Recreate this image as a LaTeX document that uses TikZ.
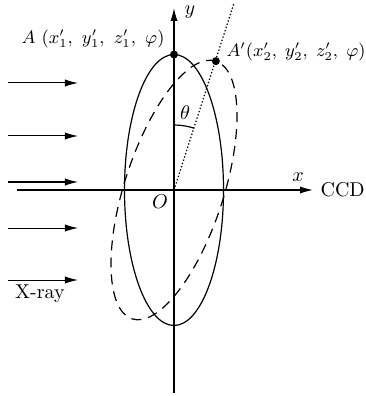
\documentclass[tikz,border=0pt]{standalone}
\usepackage{amsmath}
\usetikzlibrary{arrows.meta, positioning, calc}

\begin{document}
\begin{tikzpicture}[
    x=0.5pt, y=0.5pt,
    line width=0.6pt,
    axis/.style = {-{Latex[length=6.5pt, width=3.6pt]}},
    ray/.style = {-{Latex[length=6.5pt, width=3.6pt]}, line width=0.5pt},
    dashline/.style = {dash pattern=on 5pt off 3.5pt},
    dotline/.style = {dash pattern=on 0.7pt off 1pt},
    dot/.style = {circle, fill, inner sep=0pt, minimum size=4pt},
    ptlabel/.style = {font=\small, inner sep=0pt}
]
  \useasboundingbox (-174,-206) rectangle (191,190);

  % axes
  \coordinate (O) at (0,0);
  \coordinate (xstart) at (-157,0);
  \coordinate (xend) at (139,0);
  \coordinate (ystart) at (0,-203);
  \coordinate (yend) at (0,182);
  \draw[axis] (xstart) -- (xend);
  \draw[axis] (ystart) -- (yend);
  \node (xlabel) at (124,13) {$x$};
  \node (ylabel) at (16,178) {$y$};
  \node[anchor=west, inner sep=0pt] (ccd) at (146,0) {CCD};
  \node (olabel) at (-14,-12) {$O$};

  % ellipses
  \draw (O) ellipse [x radius=49.5, y radius=135.5];
  \draw[dashline, rotate=-18] (O) ellipse [x radius=49.5, y radius=135.5];

  % tilted axis and angle
  \coordinate (tiptop) at (60,187);
  \draw[dotline] (O) -- (tiptop);
  \draw (0,65) arc[start angle=90, end angle=72, radius=65];
  \node (theta) at (11,77) {$\theta$};

  % points
  \node[dot] (A) at (0,135.5) {};
  \node[dot] (A2) at ($(O)!1!-18:(0,135.5)$) {};
  \node[ptlabel] (Alabel) at (-81,151) {$A\ (x_1', \ y_1', \ z_1', \ \varphi)$};
  \node[ptlabel, anchor=west] (A2label) at (52,138) {$A'(x_2', \; y_2', \; z_2', \; \varphi)$};

  % incoming X-rays
  \foreach \i/\yy in {1/107, 2/54, 3/8, 4/-38, 5/-90} {
    \coordinate (rs\i) at (-166,\yy);
    \coordinate (re\i) at (-96,\yy);
    \draw[ray] (rs\i) -- (re\i);
  }
  \node (xray) at (-134,-104) {X-ray};
\end{tikzpicture}
\end{document}
